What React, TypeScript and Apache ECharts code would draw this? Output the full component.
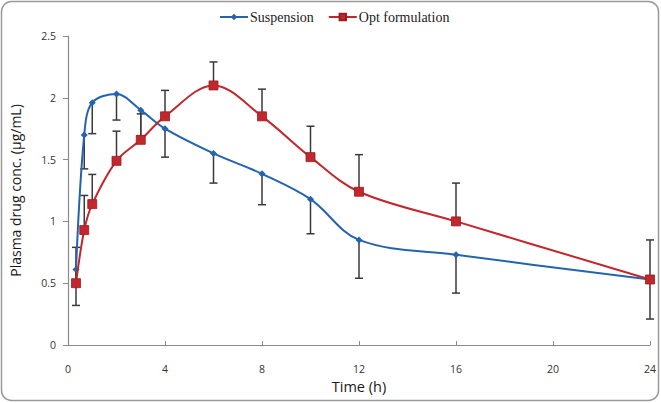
import React, { useEffect, useRef } from "react";
import * as echarts from "echarts";

const times = [0.33, 0.67, 1, 2, 3, 4, 6, 8, 10, 12, 16, 24];
const suspension = [0.61, 1.7, 1.96, 2.03, 1.9, 1.75, 1.55, 1.385, 1.18, 0.85, 0.73, 0.53];
const suspensionErrMinus = [0.29, 0.275, 0.25, 0.21, 0.21, 0.23, 0.24, 0.25, 0.28, 0.31, 0.31, 0.32];
const optFormulation = [0.5, 0.93, 1.14, 1.49, 1.66, 1.85, 2.1, 1.85, 1.52, 1.24, 1.0, 0.53];
const optErrPlus = [0.29, 0.28, 0.24, 0.24, 0.21, 0.21, 0.19, 0.22, 0.25, 0.3, 0.31, 0.32];
const xTicks = [0, 4, 8, 12, 16, 20, 24];
const yTicks = [0, 0.5, 1, 1.5, 2, 2.5];

const BLUE = "#2464ae";
const RED = "#c1272d";
const SANS = "'Open Sans', 'DejaVu Sans', sans-serif";

export default function App() {
  const ref = useRef<HTMLDivElement>(null);
  useEffect(() => {
    if (!ref.current) return;
    const chart = echarts.init(ref.current, undefined, { renderer: "svg" });

    const errData = [
      ...times.map((t, i) => [t, suspension[i], suspension[i] - suspensionErrMinus[i]]),
      ...times.map((t, i) => [t, optFormulation[i], optFormulation[i] + optErrPlus[i]]),
    ];

    const renderErr = (params: any, api: any) => {
      const x = api.value(0);
      const p0 = api.coord([x, api.value(1)]);
      const p1 = api.coord([x, api.value(2)]);
      const style = { stroke: "#3a3a3a", lineWidth: 1.5 };
      return {
        type: "group",
        children: [
          { type: "line", shape: { x1: p0[0], y1: p0[1], x2: p1[0], y2: p1[1] }, style },
          { type: "line", shape: { x1: p1[0] - 4, y1: p1[1], x2: p1[0] + 4, y2: p1[1] }, style },
        ],
      };
    };

    chart.setOption({
      animation: false,
      backgroundColor: "#ffffff",
      graphic: [
        {
          type: "rect",
          shape: { x: 1.5, y: 1.5, width: 657, height: 399, r: 10 },
          style: { fill: "none", stroke: "#9a9a9a", lineWidth: 1.5 },
          z: 0,
        },
      ],
      legend: {
        top: 5,
        left: 214,
        itemWidth: 28,
        itemHeight: 8,
        itemGap: 14,
        data: ["Suspension", "Opt formulation"],
        textStyle: {
          fontFamily: "'Liberation Serif', 'DejaVu Serif', serif",
          fontSize: 14,
          color: "#222",
          padding: [0, 0, 0, -3],
        },
      },
      grid: { left: 65, right: 11, top: 36, bottom: 58 },
      xAxis: {
        type: "value",
        min: 0,
        max: 24,
        interval: 4,
        name: "Time (h)",
        nameLocation: "middle",
        nameGap: 33,
        nameTextStyle: { fontFamily: SANS, fontSize: 14.5, color: "#1a1a1a" },
        axisLine: { lineStyle: { color: "#8a8a8a", width: 1.2 } },
        axisTick: { inside: true, length: 4, lineStyle: { color: "#8a8a8a" } },
        axisLabel: {
          margin: 18,
          fontFamily: SANS,
          fontSize: 10.5,
          color: "#333",
          formatter: (v: number) => (xTicks.includes(v) ? String(v) : ""),
        },
        splitLine: { show: false },
      },
      yAxis: {
        type: "value",
        min: 0,
        max: 2.5,
        interval: 0.5,
        name: "Plasma drug conc. (µg/mL)",
        nameLocation: "middle",
        nameGap: 46,
        nameTextStyle: { fontFamily: SANS, fontSize: 14, color: "#1a1a1a" },
        axisLine: { show: true, lineStyle: { color: "#8a8a8a", width: 1.2 } },
        axisTick: { show: true, length: 5, lineStyle: { color: "#8a8a8a" } },
        axisLabel: {
          margin: 12,
          fontFamily: SANS,
          fontSize: 10.5,
          color: "#333",
          formatter: (v: number) => (yTicks.includes(v) ? String(v) : ""),
        },
        splitLine: { show: false },
      },
      series: [
        {
          type: "custom",
          name: "errors",
          renderItem: renderErr,
          data: errData,
          encode: { x: 0, y: [1, 2] },
          z: 1,
          silent: true,
        },
        {
          type: "line",
          name: "Suspension",
          data: times.map((t, i) => [t, suspension[i]]),
          smooth: 0.35,
          symbol: "diamond",
          symbolSize: 7,
          lineStyle: { color: BLUE, width: 2 },
          itemStyle: { color: BLUE },
          z: 3,
        },
        {
          type: "line",
          name: "Opt formulation",
          data: times.map((t, i) => [t, optFormulation[i]]),
          smooth: 0.35,
          symbol: "rect",
          symbolSize: 9,
          lineStyle: { color: RED, width: 2 },
          itemStyle: { color: RED, borderColor: "#9c1c20", borderWidth: 0.8 },
          z: 4,
        },
      ],
    });
    return () => chart.dispose();
  }, []);
  return (
    <div
      ref={ref}
      style={{ position: "fixed", left: 0, top: 0, width: 661, height: 403 }}
    />
  );
}
